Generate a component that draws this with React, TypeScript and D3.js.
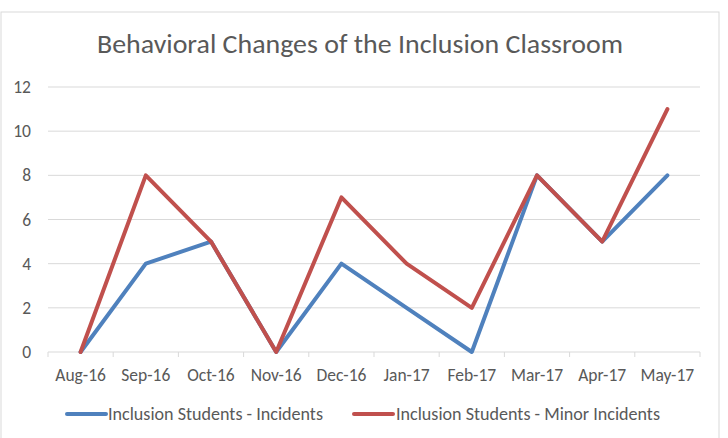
import React from 'react';
import * as d3 from 'd3';

const months = ["Aug-16", "Sep-16", "Oct-16", "Nov-16", "Dec-16", "Jan-17", "Feb-17", "Mar-17", "Apr-17", "May-17"];
const incidents = [0, 4, 5, 0, 4, 2, 0, 8, 5, 8];
const minorIncidents = [0, 8, 5, 0, 7, 4, 2, 8, 5, 11];
const yTicks = [0, 2, 4, 6, 8, 10, 12];

const series = [
    { name: "Inclusion Students - Incidents", values: incidents, color: "#4F81BD" },
    { name: "Inclusion Students - Minor Incidents", values: minorIncidents, color: "#C0504D" }
];

const W = 728;
const H = 438;
const font = "Calibri, Carlito, 'Open Sans', sans-serif";

const App = () => {
    const margin = { top: 87, left: 48, right: 28, bottom: 86 };

    const x = d3.scaleBand<string>()
        .domain(months)
        .range([margin.left, W - margin.right]);

    const y = d3.scaleLinear()
        .domain([0, 12])
        .range([H - margin.bottom, margin.top]);

    const line = d3.line<number>()
        .x((_, i) => (x(months[i]) as number) + x.bandwidth() / 2)
        .y(d => y(d));

    const tickXs = months.map(m => x(m) as number).concat([W - margin.right]);

    return (
        <svg width={W} height={H} style={{ position: 'absolute', left: 0, top: 0, background: '#fff' }}>
            <rect x={1} y={12} width={718} height={440} fill="#fff" stroke="#D9D9D9" />
            <text x={360} y={53} textAnchor="middle" fontFamily={font} fontSize={26} fill="#595959"
                textLength={526} lengthAdjust="spacingAndGlyphs">
                Behavioral Changes of the Inclusion Classroom
            </text>

            {/* gridlines + y labels */}
            {yTicks.map(t => (
                <g key={t}>
                    {t > 0 && <line x1={margin.left} x2={W - margin.right} y1={y(t)} y2={y(t)} stroke="#D9D9D9" />}
                    <text x={31} y={y(t) + 6} textAnchor="end" fontFamily={font} fontSize={17.5} fill="#595959">{t}</text>
                </g>
            ))}

            {/* x axis */}
            <line x1={margin.left} x2={W - margin.right} y1={y(0)} y2={y(0)} stroke="#D9D9D9" />
            {tickXs.map((tx, i) => (
                <line key={i} x1={tx} x2={tx} y1={y(0)} y2={y(0) + 5} stroke="#D9D9D9" />
            ))}
            {months.map(m => (
                <text key={m} x={(x(m) as number) + x.bandwidth() / 2} y={381} textAnchor="middle"
                    fontFamily={font} fontSize={17.5} fill="#595959">{m}</text>
            ))}

            {/* series */}
            {series.map(s => (
                <path key={s.name} d={line(s.values) as string} fill="none" stroke={s.color}
                    strokeWidth={4} strokeLinejoin="round" strokeLinecap="round" />
            ))}

            {/* legend */}
            <g>
                <line x1={67} x2={106} y1={414} y2={414} stroke={series[0].color} strokeWidth={4} strokeLinecap="round" />
                <text x={108} y={420} fontFamily={font} fontSize={17.5} fill="#595959"
                    textLength={215} lengthAdjust="spacingAndGlyphs">{series[0].name}</text>
                <line x1={354} x2={393} y1={414} y2={414} stroke={series[1].color} strokeWidth={4} strokeLinecap="round" />
                <text x={396} y={420} fontFamily={font} fontSize={17.5} fill="#595959"
                    textLength={264} lengthAdjust="spacingAndGlyphs">{series[1].name}</text>
            </g>
        </svg>
    );
};

export default App;
